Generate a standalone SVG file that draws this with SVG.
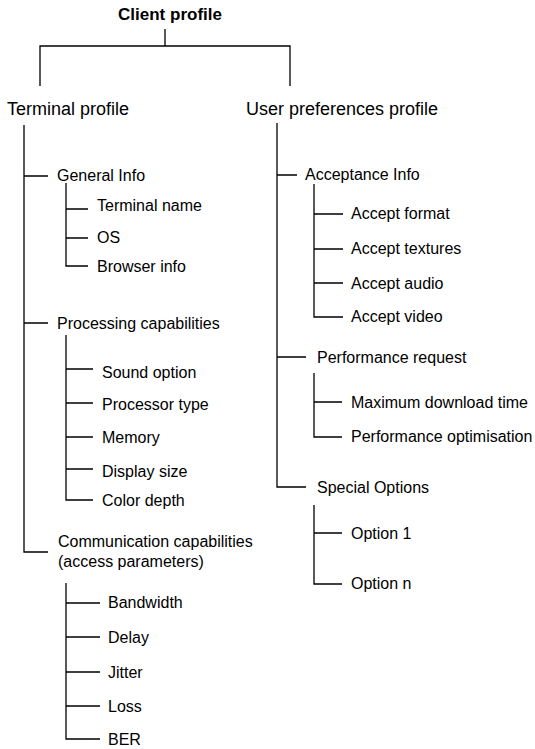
<svg xmlns="http://www.w3.org/2000/svg" width="535" height="749" viewBox="0 0 535 749">
<style>
text{font-family:"Liberation Sans",Arial,sans-serif;fill:#000}
.t0{font-size:17px;font-weight:bold;text-anchor:middle}
.t1{font-size:18px}
.t2{font-size:16px}
#connectors path{fill:none;stroke:#000;stroke-width:1.3}
</style>
<rect width="535" height="749" fill="#fff"/>
<g id="connectors">
<path d="M165,29V46M40,86V46H290V86"/>
<path d="M24,125V552H48M24,176H48M24,323H48"/>
<path d="M66,183V266H88M66,209H88M66,238H88"/>
<path d="M66,335V500H93M66,369H93M66,403H93M66,437H93M66,469H93"/>
<path d="M66,583V739H100M66,603H100M66,637H100M66,672H100M66,706H100"/>
<path d="M277,123V487H306M277,175H297M277,357H306"/>
<path d="M314,184V317H343M314,214H343M314,249H343M314,283H343"/>
<path d="M314,373V437H342M314,402H342"/>
<path d="M314,505V584H342M314,533H342"/>
</g>
<g id="client-profile"><text class="t0" x="170" y="19.5">Client profile</text></g>
<g id="terminal-profile"><text class="t1" x="7" y="115">Terminal profile</text></g>
<g id="user-preferences-profile"><text class="t1" x="246" y="115">User preferences profile</text></g>
<g id="general-info"><text class="t2" x="57" y="181">General Info</text></g>
<g id="terminal-name"><text class="t2" x="97" y="211">Terminal name</text></g>
<g id="os"><text class="t2" x="97" y="243">OS</text></g>
<g id="browser-info"><text class="t2" x="97" y="272">Browser info</text></g>
<g id="processing-capabilities"><text class="t2" x="57" y="329">Processing capabilities</text></g>
<g id="sound-option"><text class="t2" x="102" y="378">Sound option</text></g>
<g id="processor-type"><text class="t2" x="102" y="410">Processor type</text></g>
<g id="memory"><text class="t2" x="102" y="443">Memory</text></g>
<g id="display-size"><text class="t2" x="102" y="477">Display size</text></g>
<g id="color-depth"><text class="t2" x="102" y="506">Color depth</text></g>
<g id="communication-capabilities"><text class="t2" x="58" y="547">Communication capabilities</text><text class="t2" x="58" y="567">(access parameters)</text></g>
<g id="bandwidth"><text class="t2" x="108" y="608">Bandwidth</text></g>
<g id="delay"><text class="t2" x="108" y="643">Delay</text></g>
<g id="jitter"><text class="t2" x="108" y="678">Jitter</text></g>
<g id="loss"><text class="t2" x="108" y="712">Loss</text></g>
<g id="ber"><text class="t2" x="108" y="745">BER</text></g>
<g id="acceptance-info"><text class="t2" x="305" y="180">Acceptance Info</text></g>
<g id="accept-format"><text class="t2" x="351" y="219">Accept format</text></g>
<g id="accept-textures"><text class="t2" x="351" y="254">Accept textures</text></g>
<g id="accept-audio"><text class="t2" x="351" y="289">Accept audio</text></g>
<g id="accept-video"><text class="t2" x="351" y="322">Accept video</text></g>
<g id="performance-request"><text class="t2" x="317" y="363">Performance request</text></g>
<g id="max-download-time"><text class="t2" x="351" y="408">Maximum download time</text></g>
<g id="performance-optimisation"><text class="t2" x="351" y="442">Performance optimisation</text></g>
<g id="special-options"><text class="t2" x="317" y="493">Special Options</text></g>
<g id="option-1"><text class="t2" x="351" y="539">Option 1</text></g>
<g id="option-n"><text class="t2" x="351" y="589">Option n</text></g>
</svg>
